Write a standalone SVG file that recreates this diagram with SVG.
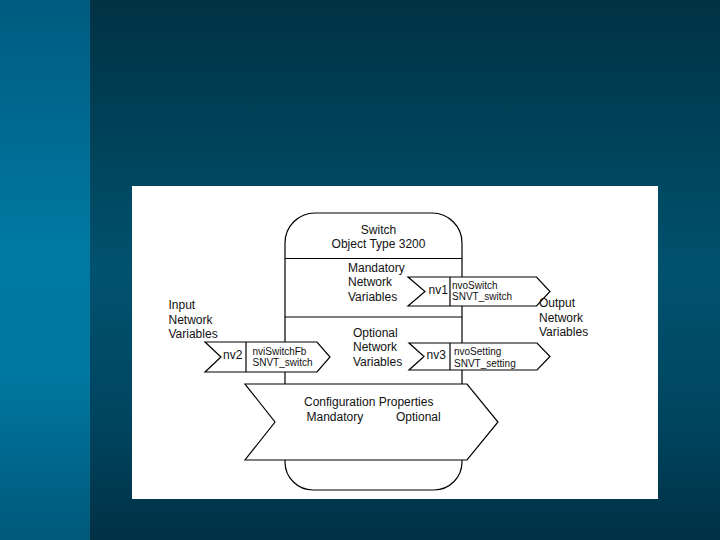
<svg xmlns="http://www.w3.org/2000/svg" width="720" height="540" viewBox="0 0 720 540">
<defs>
<linearGradient id="gMain" x1="0" y1="0" x2="0" y2="1">
<stop offset="0" stop-color="#003243"/>
<stop offset="0.5" stop-color="#00526f"/>
<stop offset="0.78" stop-color="#004560"/>
<stop offset="1" stop-color="#003144"/>
</linearGradient>
<linearGradient id="gStrip" x1="0" y1="0" x2="0" y2="1">
<stop offset="0" stop-color="#005b7f"/>
<stop offset="0.45" stop-color="#0078a2"/>
<stop offset="0.7" stop-color="#0077a0"/>
<stop offset="1" stop-color="#00587a"/>
</linearGradient>
<style>
.ln{fill:none;stroke:#000;stroke-width:1.2}
.sh{fill:#fff;stroke:#000;stroke-width:1.2;stroke-linejoin:miter}
text{font-family:"Liberation Sans",Arial,sans-serif;fill:#111}
.t12{font-size:12px}
.t10{font-size:10px}
</style>
</defs>
<rect x="0" y="0" width="720" height="540" fill="url(#gMain)"/>
<rect x="0" y="0" width="90" height="540" fill="url(#gStrip)"/>
<rect x="132" y="186" width="526" height="313" fill="#fff"/>

<g id="body">
<path class="sh" d="M285,243 A30,30 0 0 1 315,213 L432,213 A30,30 0 0 1 462,243 L462,462 A28,28 0 0 1 434,490 L313,490 A28,28 0 0 1 285,462 Z"/>
<line class="ln" x1="285" y1="258.5" x2="462" y2="258.5"/>
<line class="ln" x1="285" y1="317" x2="462" y2="317"/>
<text class="t12" x="378.5" y="233.5" text-anchor="middle">Switch</text>
<text class="t12" x="378.5" y="247.5" text-anchor="middle">Object Type 3200</text>
<text class="t12" x="348" y="271.5">Mandatory</text>
<text class="t12" x="348" y="286">Network</text>
<text class="t12" x="348" y="300.5">Variables</text>
<text class="t12" x="353" y="336.5">Optional</text>
<text class="t12" x="353" y="351">Network</text>
<text class="t12" x="353" y="365.5">Variables</text>
</g>

<g id="connectors"></g>

<g id="nv1">
<polygon class="sh" points="408,277 536.5,277 550,291.5 536.5,306 408,306 425,291.5"/>
<line class="ln" x1="450" y1="277" x2="450" y2="306"/>
<text class="t12" x="428.5" y="294">nv1</text>
<text class="t10" x="452" y="288.5">nvoSwitch</text>
<text class="t10" x="452" y="300">SNVT_switch</text>
</g>

<g id="nv3">
<polygon class="sh" points="409,343 537,343 550,356.5 537,370 409,370 424,356.5"/>
<line class="ln" x1="450" y1="343" x2="450" y2="370"/>
<text class="t12" x="426.5" y="358.5">nv3</text>
<text class="t10" x="454" y="354.5">nvoSetting</text>
<text class="t10" x="454" y="366.5">SNVT_setting</text>
</g>

<g id="nv2">
<polygon class="sh" points="205,342 317,342 330,357 317,372 205,372 221,357"/>
<line class="ln" x1="246" y1="342" x2="246" y2="372"/>
<text class="t12" x="223" y="359">nv2</text>
<text class="t10" x="252.5" y="354.5">nviSwitchFb</text>
<text class="t10" x="252.5" y="366">SNVT_switch</text>
</g>

<g id="input-label">
<text class="t12" x="168.5" y="309">Input</text>
<text class="t12" x="168.5" y="323.5">Network</text>
<text class="t12" x="168.5" y="338">Variables</text>
</g>

<g id="output-label">
<text class="t12" x="539" y="307">Output</text>
<text class="t12" x="539" y="321.5">Network</text>
<text class="t12" x="539" y="336">Variables</text>
</g>

<g id="config">
<polygon class="sh" points="245,384 467,384 498,422 467,460 245,460 275,422"/>
<text class="t12" x="304" y="406">Configuration Properties</text>
<text class="t12" x="306.5" y="421">Mandatory</text>
<text class="t12" x="396" y="421">Optional</text>
</g>
</svg>
